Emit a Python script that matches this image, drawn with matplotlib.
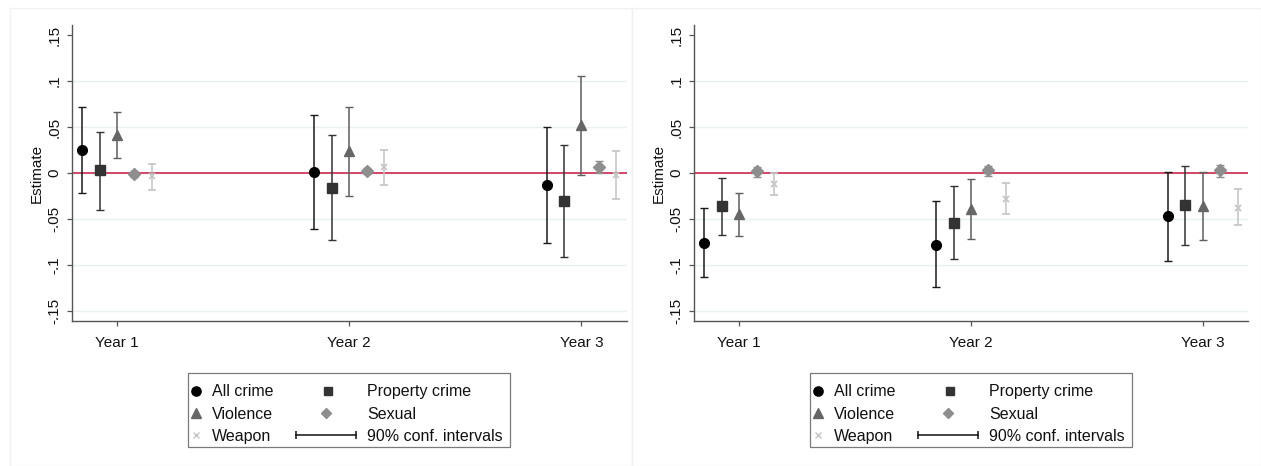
import numpy as np
import matplotlib
matplotlib.use("Agg")
import matplotlib.pyplot as plt
from matplotlib.legend_handler import HandlerBase
from matplotlib.lines import Line2D
from matplotlib.patches import Rectangle

# ---------------- data ----------------
years = ["Year 1", "Year 2", "Year 3"]
series = ["All crime", "Property crime", "Violence", "Sexual", "Weapon"]
ytick_vals = [-0.15, -0.10, -0.05, 0.0, 0.05, 0.10, 0.15]
ytick_labels = ["-.15", "-.1", "-.05", "0", ".05", ".1", ".15"]

# left panel
all_crime_L = [0.025, 0.001, -0.013]
all_crime_L_lo = [-0.022, -0.061, -0.076]
all_crime_L_hi = [0.072, 0.063, 0.050]
property_L = [0.003, -0.016, -0.031]
property_L_lo = [-0.040, -0.073, -0.091]
property_L_hi = [0.045, 0.041, 0.030]
violence_L = [0.041, 0.024, 0.052]
violence_L_lo = [0.016, -0.025, -0.002]
violence_L_hi = [0.066, 0.072, 0.106]
sexual_L = [-0.001, 0.002, 0.007]
sexual_L_lo = [-0.004, -0.001, 0.000]
sexual_L_hi = [0.002, 0.005, 0.013]
weapon_L = [-0.003, 0.006, -0.002]
weapon_L_lo = [-0.018, -0.013, -0.028]
weapon_L_hi = [0.010, 0.025, 0.024]

# right panel
all_crime_R = [-0.076, -0.078, -0.047]
all_crime_R_lo = [-0.113, -0.124, -0.096]
all_crime_R_hi = [-0.038, -0.031, 0.001]
property_R = [-0.036, -0.054, -0.035]
property_R_lo = [-0.067, -0.094, -0.078]
property_R_hi = [-0.005, -0.014, 0.008]
violence_R = [-0.045, -0.039, -0.036]
violence_R_lo = [-0.069, -0.072, -0.073]
violence_R_hi = [-0.022, -0.007, 0.001]
sexual_R = [0.002, 0.003, 0.003]
sexual_R_lo = [-0.004, -0.003, -0.004]
sexual_R_hi = [0.006, 0.008, 0.009]
weapon_R = [-0.012, -0.028, -0.038]
weapon_R_lo = [-0.024, -0.045, -0.057]
weapon_R_hi = [0.000, -0.011, -0.017]

left_panel = [
    (all_crime_L, all_crime_L_lo, all_crime_L_hi),
    (property_L, property_L_lo, property_L_hi),
    (violence_L, violence_L_lo, violence_L_hi),
    (sexual_L, sexual_L_lo, sexual_L_hi),
    (weapon_L, weapon_L_lo, weapon_L_hi),
]
right_panel = [
    (all_crime_R, all_crime_R_lo, all_crime_R_hi),
    (property_R, property_R_lo, property_R_hi),
    (violence_R, violence_R_lo, violence_R_hi),
    (sexual_R, sexual_R_lo, sexual_R_hi),
    (weapon_R, weapon_R_lo, weapon_R_hi),
]

# ---------------- styles ----------------
plt.rcParams["font.family"] = ["Liberation Sans", "DejaVu Sans"]
plt.rcParams["font.size"] = 11
TXT = "#111111"
offsets = [-0.15, -0.075, 0.0, 0.075, 0.15]
markers = ["o", "s", "^", "D", "x"]
mcolors = ["#000000", "#333333", "#666666", "#8e8e8e", "#c4c4c4"]
ecolors = ["#1a1a1a", "#333333", "#5e5e5e", "#8e8e8e", "#c4c4c4"]
msizes = [7, 6.6, 7.4, 5.8, 4]
RED = "#cf3a5c"
GRID = "#e9f0f1"
SPINE = "#555555"
LEG_FS = 11.5

W, H = 1261, 466
fig = plt.figure(figsize=(W / 100, H / 100), dpi=100)


def px_axes(x0, y0, x1, y1):
    return fig.add_axes([x0 / W, 1 - y1 / H, (x1 - x0) / W, (y1 - y0) / H])


# faint graph-region borders
for (x0, x1) in [(10, 632), (632, 1261)]:
    fig.add_artist(Rectangle((x0 / W, 0), (x1 - x0) / W, (H - 8) / H,
                             transform=fig.transFigure, fill=False,
                             ec="#f1f1f1", lw=1))


class KeyHandler(HandlerBase):
    def __init__(self, shift_px=0.0, ci_px=0.0):
        super().__init__()
        self.shift = shift_px
        self.ci = ci_px

    def create_artists(self, legend, orig_handle, xdescent, ydescent,
                       width, height, fontsize, trans):
        cx = -xdescent + width / 2 + self.shift * 0.72
        cy = -ydescent + height / 2
        if self.ci > 0:
            half = self.ci * 0.72 / 2
            ln = Line2D([cx - half, cx + half], [cy, cy], color="#111111", lw=1.1)
            cp = Line2D([cx - half, cx + half], [cy, cy], ls="none", marker="|",
                        ms=5.5, mew=1.1, color="#111111")
            ln.set_transform(trans)
            cp.set_transform(trans)
            return [ln, cp]
        m = Line2D([cx], [cy], ls="none", marker=orig_handle.get_marker(),
                   ms=orig_handle.get_markersize(),
                   color=orig_handle.get_color(),
                   mew=orig_handle.get_markeredgewidth())
        m.set_transform(trans)
        return [m]


legends = []


def draw(ax, panel):
    xs = np.arange(1, len(years) + 1)
    handles = []
    for i, (est, lo, hi) in enumerate(panel):
        est = np.asarray(est)
        yerr = [est - np.asarray(lo), np.asarray(hi) - est]
        ax.errorbar(xs + offsets[i], est, yerr=yerr, fmt=markers[i],
                    color=mcolors[i], ecolor=ecolors[i], ms=msizes[i],
                    mew=1.2 if markers[i] == "x" else 1.0,
                    elinewidth=1.1, capsize=3, capthick=1.1, zorder=3 + i)
        handles.append(Line2D([], [], ls="none", marker=markers[i],
                              color=mcolors[i], ms=msizes[i] * 0.95,
                              mew=1.0))
    ax.axhline(0, color=RED, lw=1.3, zorder=2)
    ax.set_xlim(0.805, 3.195)
    ax.set_ylim(-0.161, 0.161)
    ax.set_xticks(xs)
    ax.set_xticklabels(years, color=TXT)
    ax.set_yticks(ytick_vals)
    ax.set_yticklabels(ytick_labels, rotation=90, va="center", color=TXT)
    ax.yaxis.grid(True, color=GRID, lw=1.0)
    ax.get_ygridlines()[-1].set_visible(False)
    ax.set_axisbelow(True)
    for s in ["top", "right"]:
        ax.spines[s].set_visible(False)
    for s in ["left", "bottom"]:
        ax.spines[s].set_color(SPINE)
        ax.spines[s].set_linewidth(1.0)
    ax.tick_params(axis="both", length=3.6, width=0.9, color=SPINE,
                   labelsize=11, pad=4)
    ax.tick_params(axis="x", pad=7)
    ax.set_ylabel("Estimate", fontsize=11, color=TXT, labelpad=2.6)

    ci_handle = Line2D([], [], color="#111111")
    # column-first ordering for ncol=2
    order_h = [handles[0], handles[2], handles[4], handles[1], handles[3], ci_handle]
    order_l = [series[0], series[2], series[4], series[1], series[3],
               "90% conf. intervals"]
    hmap = {
        handles[0]: KeyHandler(-3.2),
        handles[2]: KeyHandler(-3.2),
        handles[4]: KeyHandler(-3.2),
        handles[1]: KeyHandler(-26.2),
        handles[3]: KeyHandler(-28.2),
        ci_handle: KeyHandler(-28.2, 60),
    }
    axes_h_px = ax.get_position().height * H
    leg = ax.legend(order_h, order_l, handler_map=hmap, ncol=2,
                    loc="upper center",
                    bbox_to_anchor=(0.5, -(377 - 321) / axes_h_px),
                    borderaxespad=0, frameon=False,
                    fontsize=LEG_FS, handlelength=0.5, handletextpad=0.55,
                    borderpad=0.45, labelspacing=0.46, columnspacing=4.82)
    for t in leg.get_texts():
        t.set_color(TXT)
    legends.append(leg)


axL = px_axes(71.7, 25, 626.7, 321)
axR = px_axes(694, 25, 1248, 321)
draw(axL, left_panel)
draw(axR, right_panel)

# legend frames (drawn around legend extent, nudged up to centre text visually)
fig.canvas.draw()
renderer = fig.canvas.get_renderer()
for leg in legends:
    bb = leg.get_window_extent(renderer)
    fig.add_artist(Rectangle((bb.x0 / W, (bb.y0 + 4) / H), bb.width / W,
                             bb.height / H, transform=fig.transFigure,
                             fill=False, ec="#7a7a7a", lw=0.9))

fig.savefig("out.png", dpi=100, facecolor="white")
